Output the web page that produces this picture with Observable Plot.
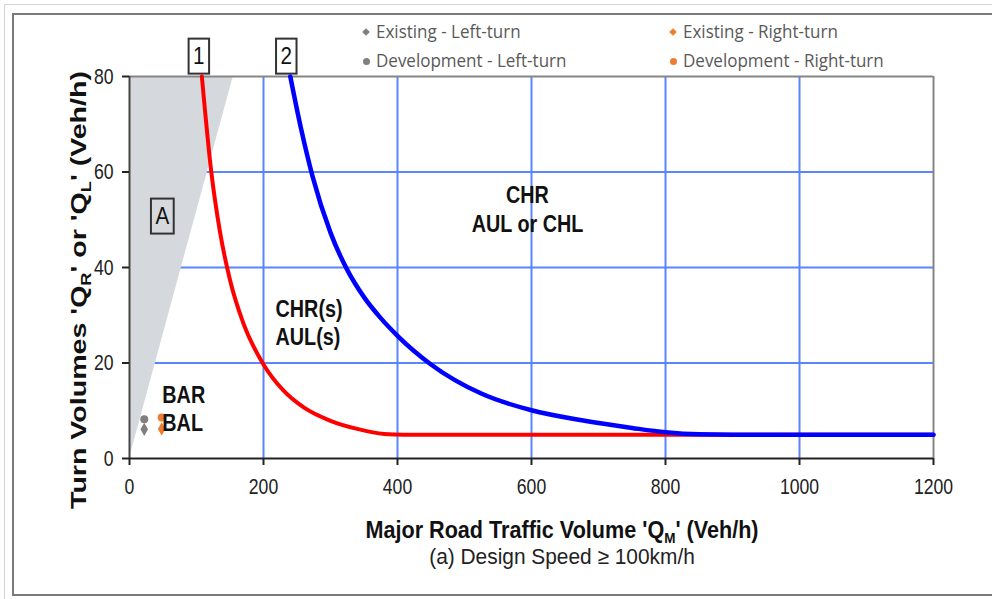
<!DOCTYPE html>
<html>
<head>
<meta charset="utf-8">
<script src="https://cdn.jsdelivr.net/npm/d3@7"></script>
<script src="https://cdn.jsdelivr.net/npm/@observablehq/plot@0.6"></script>
<style>
  body { margin: 0; background: #fff; }
  #wrap { position: relative; width: 992px; height: 599px; overflow: hidden; background: #fff; }
  #outer { position: absolute; left: 4px; top: 4px; width: 1200px; height: 1200px;
           border-left: 1px solid #d4d4d4; border-top: 1px solid #d4d4d4; }
  #inner { position: absolute; left: 12px; top: 13px; width: 1200px; height: 579px;
           border: 2px solid #7a7a7a; border-right: none; }
  #chart { position: absolute; left: 0; top: 0; }
  .leg { position: absolute; font-family: "Open Sans", "Noto Sans", sans-serif; font-size: 17px;
         color: #595959; white-space: nowrap; line-height: 20px; transform: scale(1, 1.05); transform-origin: left center; }
  .mk { position: absolute; width: 6px; height: 6px; }
</style>
</head>
<body>
<div id="wrap">
  <div id="outer"></div>
  <div id="inner"></div>
  <div id="chart"></div>
  <div id="legend"></div>
</div>
<script>
// ---- data ----
const xTicks = [0, 200, 400, 600, 800, 1000, 1200];
const yTicks = [0, 20, 40, 60, 80];
const xGrid = [200, 400, 600, 800, 1000];
const yGrid = [20, 40, 60];

// warrant boundary curve 1 (red)
const curve1X = [108, 122, 135, 150, 170, 200, 230, 260, 300, 340, 380, 410, 1200];
const curve1Y = [80, 60.1, 47.5, 37.4, 28.3, 19.7, 14.2, 10.7, 7.9, 6.2, 5.15, 5, 5];
// warrant boundary curve 2 (blue)
const curve2X = [240, 256, 273, 300, 325, 350, 375, 400, 450, 525, 600, 675, 750, 800, 850, 900, 1200];
const curve2Y = [80, 69.1, 59.2, 47.3, 39.5, 33.8, 29.4, 25.7, 19.7, 13.6, 10.1, 8.0, 6.4, 5.5, 5.07, 5, 5];
// shaded zone A boundary
const zoneAX = [0, 155];
const zoneAY = [0, 80];

// observed turn volumes
const pointSeries = ["Existing - Left-turn", "Existing - Right-turn", "Development - Left-turn", "Development - Right-turn"];
const pointX = [22, 48, 22, 48];
const pointY = [6.1, 6.2, 8.2, 8.6];
const pointSymbol = ["diamond", "diamond", "circle", "circle"];
const pointColor = ["#7f7f7f", "#ed7d31", "#7f7f7f", "#ed7d31"];

// region labels
const zoneLabels = ["CHR\nAUL or CHL", "CHR(s)\nAUL(s)", "BAR\nBAL"];
const zoneLabelX = [594, 218, 49];
const zoneLabelY = [52.4, 28.6, 10.6];
const zoneLabelAnchor = ["middle", "start", "start"];

// boxed labels
const boxLabels = ["1", "2", "A"];
const boxX = [103.5, 234, 49];
const boxY = [84.2, 84.2, 50.7];
const boxFill = ["#ffffff", "#ffffff", "none"];

// ---- build tables ----
const red = curve1X.map((x, i) => ({x, y: curve1Y[i]}));
const blue = curve2X.map((x, i) => ({x, y: curve2Y[i]}));
const zoneA = zoneAX.map((x, i) => ({x, y: zoneAY[i]}));
const pts = pointSeries.map((s, i) => ({s, x: pointX[i], y: pointY[i], sym: pointSymbol[i], col: pointColor[i]}));
const zl = zoneLabels.map((t, i) => ({t, x: zoneLabelX[i], y: zoneLabelY[i], a: zoneLabelAnchor[i]}));
const bl = boxLabels.map((t, i) => ({t, x: boxX[i], y: boxY[i], f: boxFill[i]}));

const SANS = '"Liberation Sans", Arial, sans-serif';
const gridColor = "#5b84ff";

const plot = Plot.plot({
  width: 992,
  height: 599,
  marginLeft: 129,
  marginRight: 59,
  marginTop: 76,
  marginBottom: 141,
  x: {domain: [0, 1200]},
  y: {domain: [0, 80]},
  style: {fontFamily: SANS, background: "transparent", color: "#222", overflow: "visible"},
  marks: [
    Plot.gridX(xGrid, {stroke: gridColor, strokeOpacity: 1, strokeWidth: 2}),
    Plot.gridY(yGrid, {stroke: gridColor, strokeOpacity: 1, strokeWidth: 2}),
    Plot.areaX(zoneA, {y: "y", x1: 0, x2: "x", fill: "#d5d9dd"}),
    Plot.ruleY([80], {stroke: "#858585", strokeWidth: 2}),
    Plot.ruleX([1200], {stroke: "#858585", strokeWidth: 2}),
    Plot.ruleX([0], {stroke: "#444", strokeWidth: 2}),
    Plot.ruleY([0], {stroke: "#222", strokeWidth: 2}),
    Plot.axisX({ticks: xTicks, tickFormat: d => String(d), tickSize: 7, tickPadding: 13, fontSize: 22, label: null, stroke: "#222", strokeWidth: 2, className: "sq"}),
    Plot.axisY({ticks: yTicks, tickFormat: d => String(d), tickSize: 7, tickPadding: 9, fontSize: 22, label: null, stroke: "#222", strokeWidth: 2, className: "sq"}),
    Plot.line(red, {x: "x", y: "y", stroke: "#ff0000", strokeWidth: 4, curve: "monotone-x"}),
    Plot.line(blue, {x: "x", y: "y", stroke: "#0000ff", strokeWidth: 4.5, curve: "monotone-x"}),
    Plot.dot(pts, {x: "x", y: "y", symbol: "sym", fill: "col", r: 4}),
    Plot.text(zl, {filter: d => d.a === "middle", x: "x", y: "y", text: "t", textAnchor: "middle", fontSize: 23, fontWeight: "bold", lineHeight: 1.25, fill: "#111", className: "sq"}),
    Plot.text(zl, {filter: d => d.a === "start", x: "x", y: "y", text: "t", textAnchor: "start", fontSize: 23, fontWeight: "bold", lineHeight: 1.22, fill: "#111", className: "sq"}),
    Plot.text(bl, {x: "x", y: "y", text: "t", fontSize: 24, fill: "#111", className: "boxed"})
  ]
});

document.getElementById("chart").appendChild(plot);
const svg = d3.select(plot);

// horizontally condense text (reference glyphs are tall and narrow)
function squeeze(el, s) {
  let t = el.getAttribute("transform") || "";
  const xa = el.getAttribute("x");
  if (xa !== null && !isNaN(+xa) && +xa !== 0) {
    t += ` translate(${+xa},0)`;
    el.setAttribute("x", 0);
  }
  el.setAttribute("transform", (t + ` scale(${s},1)`).trim());
}
svg.selectAll("g.sq text").each(function() {
  const tick = this.closest("g").getAttribute("aria-label") || "";
  squeeze(this, /tick/.test(tick) ? 0.8 : 0.86);
});

// boxes around labels 1, 2, A
svg.selectAll("g.boxed text").each(function(d, i) {
  const s = 0.86;
  const base = this.getAttribute("transform") || "";
  const b = this.getBBox();
  squeeze(this, s);
  const padX = 4.5, padY = 4.5;
  d3.select(this.parentNode).insert("rect", () => this)
    .attr("x", b.x * s - padX).attr("y", b.y - padY + 1)
    .attr("width", b.width * s + 2 * padX).attr("height", b.height + 2 * padY - 1)
    .attr("fill", bl[i].f).attr("stroke", "#333").attr("stroke-width", 2)
    .attr("transform", base);
});

// axis titles and caption
const g = svg.append("g").attr("fill", "#111");
const xt = g.append("text").attr("transform", "translate(562,538) scale(0.9,1)").attr("text-anchor", "middle")
  .attr("font-family", SANS).attr("font-weight", "bold").attr("font-size", 24);
xt.append("tspan").text("Major Road Traffic Volume 'Q");
xt.append("tspan").attr("dy", 5).attr("font-size", 15).text("M");
xt.append("tspan").attr("dy", -5).text("' (Veh/h)");

g.append("text").attr("transform", "translate(562,564) scale(0.95,1)").attr("text-anchor", "middle")
  .attr("font-family", SANS).attr("font-size", 22).attr("fill", "#222")
  .text("(a) Design Speed \u2265 100km/h");

const yt = g.append("text").attr("transform", "translate(86,290) rotate(-90) scale(1.3,1)").attr("text-anchor", "middle")
  .attr("font-family", SANS).attr("font-weight", "bold").attr("font-size", 22);
yt.append("tspan").text("Turn Volumes 'Q");
yt.append("tspan").attr("dy", 5).attr("font-size", 14).text("R");
yt.append("tspan").attr("dy", -5).text("' or 'Q");
yt.append("tspan").attr("dy", 5).attr("font-size", 14).text("L");
yt.append("tspan").attr("dy", -5).text("' (Veh/h)");

// legend (HTML)
const legendPos = [[366, 32], [673, 32], [366, 61], [673, 61]];
const leg = document.getElementById("legend");
pts.forEach((p, i) => {
  const [cx, cy] = legendPos[i];
  const m = document.createElement("div");
  m.className = "mk";
  m.style.left = (cx - 3) + "px";
  m.style.top = (cy - 3) + "px";
  m.style.background = p.col;
  if (p.sym === "diamond") { m.style.transform = "rotate(45deg) scale(0.9)"; }
  else { m.style.borderRadius = "50%"; m.style.width = "7px"; m.style.height = "7px"; }
  leg.appendChild(m);
  const t = document.createElement("div");
  t.className = "leg";
  t.style.left = (cx + 10) + "px";
  t.style.top = (cy - 10) + "px";
  t.textContent = p.s;
  leg.appendChild(t);
});
</script>
</body>
</html>
